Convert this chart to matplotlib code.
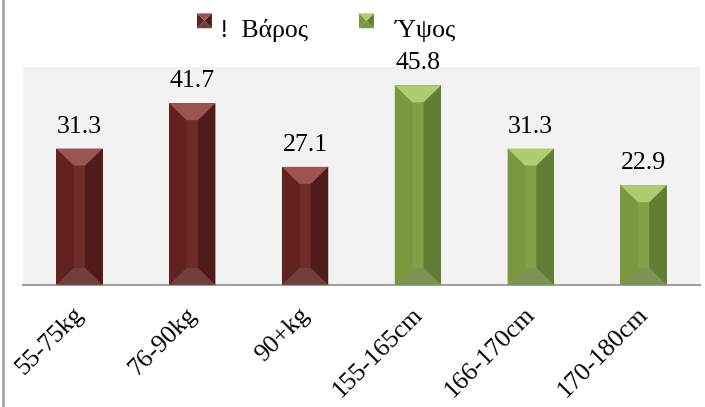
import matplotlib
matplotlib.use("Agg")
import matplotlib.pyplot as plt
from matplotlib.patches import Polygon
from matplotlib.legend_handler import HandlerBase
from matplotlib.lines import Line2D
from matplotlib.transforms import ScaledTranslation

# ---- data -----------------------------------------------------------
categories = ["55-75kg", "76-90kg", "90+kg", "155-165cm", "166-170cm", "170-180cm"]
values = [31.3, 41.7, 27.1, 45.8, 31.3, 22.9]
series_of_bar = ["Βάρος", "Βάρος", "Βάρος", "Ύψος", "Ύψος", "Ύψος"]
series_names = ["Βάρος", "Ύψος"]
legend_labels = ["!  Βάρος", "  Ύψος"]

# bevelled face colours for each series
palettes = {
    "Βάρος": dict(top="#9c5451", left="#62221f", mid="#6d2b29", right="#501b1a", bottom="#6f403d"),
    "Ύψος": dict(top="#b0cc70", left="#7a983e", mid="#84a046", right="#627e34", bottom="#7a9454"),
}

plt.rcParams["font.family"] = ["Liberation Serif", "DejaVu Serif"]
FS = 18.5

W, H = 705, 407
fig = plt.figure(figsize=(W / 100, H / 100), dpi=100)
fig.patch.set_facecolor("white")

ax = fig.add_axes([23 / W, (H - 285) / H, 677 / W, (285 - 67) / H])
ax.set_facecolor("#f2f2f2")
ax.set_xlim(-0.5, len(categories) - 0.5)
ax.set_ylim(0, 50)

for side in ("left", "right", "top"):
    ax.spines[side].set_visible(False)
ax.spines["bottom"].set_color("#a0a0a0")
ax.spines["bottom"].set_linewidth(1.5)
ax.set_yticks([])
ax.tick_params(axis="x", length=0, pad=6)

bar_width = 0.41
xs = list(range(len(categories)))
mids = [palettes[s]["mid"] for s in series_of_bar]
bars = ax.bar(xs, values, width=bar_width, color=mids, zorder=2)

# bevel depth expressed in data units
fig.canvas.draw()
inv = ax.transData.inverted()
p0 = inv.transform((0, 0))
p1 = inv.transform((17.5, 17.0))
dx, dy = p1[0] - p0[0], p1[1] - p0[1]

for x, v, s in zip(xs, values, series_of_bar):
    pal = palettes[s]
    x0, x1 = x - bar_width / 2, x + bar_width / 2
    xi0, xi1 = x0 + dx, x1 - dx
    faces = [
        ([(x0, 0), (xi0, dy), (xi0, v - dy), (x0, v)], pal["left"]),
        ([(x1, 0), (xi1, dy), (xi1, v - dy), (x1, v)], pal["right"]),
        ([(x0, v), (x1, v), (xi1, v - dy), (xi0, v - dy)], pal["top"]),
        ([(x0, 0), (x1, 0), (xi1, dy), (xi0, dy)], pal["bottom"]),
    ]
    for pts, c in faces:
        ax.add_patch(Polygon(pts, closed=True, facecolor=c, edgecolor="none", zorder=3))
    ax.annotate(f"{v:.1f}", xy=(x, v), xytext=(0, 11.5), textcoords="offset points",
                ha="center", va="baseline", fontsize=FS, color="black")

ax.set_xticks(xs)
ax.set_xticklabels(categories, rotation=45, ha="right", va="top",
                   rotation_mode="anchor", fontsize=FS)
shift = ScaledTranslation(-7 / 100, -10 / 100, fig.dpi_scale_trans)
for lab in ax.get_xticklabels():
    lab.set_transform(lab.get_transform() + shift)


class BevelSquareHandler(HandlerBase):
    def __init__(self, pal):
        super().__init__()
        self.pal = pal

    def create_artists(self, legend, orig_handle, xdescent, ydescent,
                       width, height, fontsize, trans):
        s = min(width, height)
        x0 = -xdescent + (width - s) / 2
        y0 = -ydescent + (height - s) / 2 + 5.5
        cx, cy = x0 + s / 2, y0 + s / 2
        x1, y1 = x0 + s, y0 + s
        tris = [
            ([(x0, y0), (x0, y1), (cx, cy)], self.pal["left"]),
            ([(x1, y0), (x1, y1), (cx, cy)], self.pal["right"]),
            ([(x0, y1), (x1, y1), (cx, cy)], self.pal["top"]),
            ([(x0, y0), (x1, y0), (cx, cy)], self.pal["bottom"]),
        ]
        return [Polygon(p, closed=True, facecolor=c, edgecolor="none", transform=trans)
                for p, c in tris]


handles = [Polygon([(0, 0)], label=l) for l in legend_labels]
handler_map = {h: BevelSquareHandler(palettes[n]) for h, n in zip(handles, series_names)}
fig.legend(handles, legend_labels, handler_map=handler_map, loc="center left",
           bbox_to_anchor=(197 / W, 1 - 31 / H), ncol=2, frameon=False,
           fontsize=FS, handlelength=0.58, handleheight=0.58,
           handletextpad=0.3, columnspacing=2.0, borderpad=0, borderaxespad=0)

# chart frame edge on the left
fig.add_artist(Line2D([2.5 / W, 2.5 / W], [0, 1], transform=fig.transFigure,
                      color="#a6a6a6", linewidth=2))

fig.savefig("out.png", dpi=100, facecolor="white")
